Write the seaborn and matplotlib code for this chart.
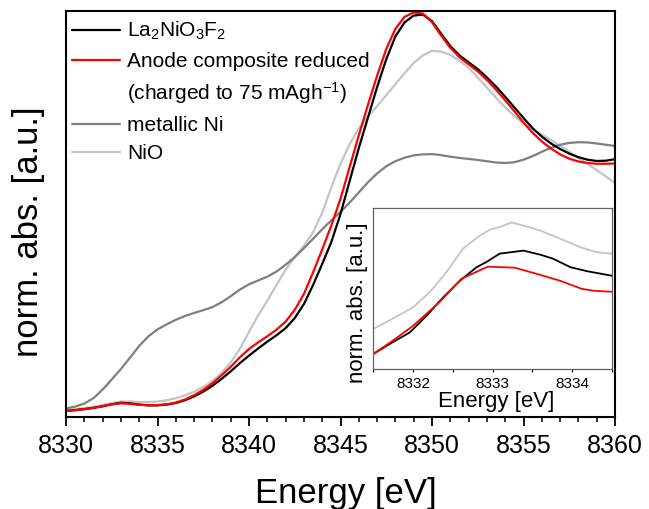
import matplotlib
matplotlib.use("Agg")
import matplotlib.pyplot as plt
from matplotlib.lines import Line2D
from matplotlib.ticker import MultipleLocator
import seaborn as sns

# ---------------- main spectra (Ni K-edge XANES) ----------------
energy = [8330.0, 8330.5, 8331.0, 8331.5, 8332.0, 8332.5, 8333.0, 8333.5, 8334.0, 8334.5,
          8335.0, 8335.5, 8336.0, 8336.5, 8337.0, 8337.5, 8338.0, 8338.5, 8339.0, 8339.5,
          8340.0, 8340.5, 8341.0, 8341.5, 8342.0, 8342.5, 8343.0, 8343.5, 8344.0, 8344.5,
          8345.0, 8345.5, 8346.0, 8346.5, 8347.0, 8347.5, 8348.0, 8348.5, 8349.0, 8349.5,
          8350.0, 8350.5, 8351.0, 8351.5, 8352.0, 8352.5, 8353.0, 8353.5, 8354.0, 8354.5,
          8355.0, 8355.5, 8356.0, 8356.5, 8357.0, 8357.5, 8358.0, 8358.5, 8359.0, 8359.5,
          8360.0]

abs_la2nio3f2 = [0.024, 0.027, 0.031, 0.036, 0.042, 0.050, 0.056, 0.054, 0.049, 0.046,
                 0.046, 0.049, 0.055, 0.066, 0.081, 0.100, 0.123, 0.150, 0.180, 0.212,
                 0.242, 0.270, 0.297, 0.322, 0.350, 0.390, 0.445, 0.520, 0.603, 0.690,
                 0.800, 0.930, 1.060, 1.180, 1.300, 1.410, 1.500, 1.555, 1.582, 1.586,
                 1.560, 1.510, 1.462, 1.425, 1.398, 1.371, 1.338, 1.302, 1.262, 1.220,
                 1.178, 1.138, 1.105, 1.078, 1.056, 1.038, 1.024, 1.014, 1.009, 1.010,
                 1.016]

abs_anode = [0.024, 0.027, 0.031, 0.036, 0.043, 0.050, 0.054, 0.052, 0.048, 0.046,
             0.047, 0.050, 0.057, 0.069, 0.086, 0.107, 0.133, 0.164, 0.198, 0.235,
             0.268, 0.294, 0.318, 0.344, 0.376, 0.422, 0.485, 0.570, 0.660, 0.755,
             0.860, 0.985, 1.110, 1.230, 1.345, 1.450, 1.530, 1.577, 1.594, 1.590,
             1.556, 1.503, 1.455, 1.418, 1.390, 1.362, 1.328, 1.290, 1.248, 1.205,
             1.160, 1.120, 1.086, 1.058, 1.035, 1.018, 1.007, 1.001, 0.998, 0.998,
             0.999]

abs_ni = [0.034, 0.041, 0.053, 0.074, 0.108, 0.148, 0.189, 0.234, 0.280, 0.318,
          0.345, 0.365, 0.383, 0.398, 0.410, 0.421, 0.433, 0.452, 0.476, 0.502,
          0.523, 0.538, 0.553, 0.573, 0.600, 0.630, 0.665, 0.702, 0.740, 0.775,
          0.808, 0.845, 0.885, 0.925, 0.960, 0.988, 1.008, 1.022, 1.031, 1.035,
          1.036, 1.032, 1.026, 1.021, 1.017, 1.013, 1.008, 1.003, 1.001, 1.004,
          1.014, 1.028, 1.045, 1.061, 1.073, 1.080, 1.083, 1.082, 1.078, 1.073,
          1.068]

abs_nio = [0.028, 0.031, 0.035, 0.040, 0.047, 0.055, 0.061, 0.061, 0.059, 0.059,
           0.061, 0.066, 0.074, 0.085, 0.100, 0.118, 0.142, 0.174, 0.215, 0.268,
           0.336, 0.400, 0.458, 0.520, 0.580, 0.630, 0.675, 0.728, 0.805, 0.905,
           0.998, 1.075, 1.138, 1.185, 1.225, 1.268, 1.312, 1.355, 1.395, 1.425,
           1.443, 1.440, 1.427, 1.404, 1.376, 1.338, 1.298, 1.258, 1.220, 1.186,
           1.157, 1.133, 1.113, 1.092, 1.069, 1.045, 1.021, 0.997, 0.973, 0.948,
           0.922]

# ---------------- pre-edge detail (inset) ----------------
pre_energy_nio = [8331.50, 8331.74, 8332.00, 8332.21, 8332.42, 8332.63, 8332.84, 8332.97,
                  8333.09, 8333.24, 8333.39, 8333.60, 8333.85, 8334.10, 8334.31, 8334.50]
pre_abs_nio = [0.0379, 0.0399, 0.0422, 0.0452, 0.0492, 0.0539, 0.0565, 0.0577,
               0.0582, 0.0591, 0.0585, 0.0575, 0.0559, 0.0542, 0.0532, 0.0529]

pre_energy_la2nio3f2 = [8331.50, 8331.74, 8331.96, 8332.17, 8332.38, 8332.59, 8332.80, 8332.92,
                        8333.09, 8333.24, 8333.39, 8333.60, 8333.76, 8333.98, 8334.19, 8334.50]
pre_abs_la2nio3f2 = [0.0329, 0.0352, 0.0372, 0.0405, 0.0442, 0.0475, 0.0502, 0.0512,
                     0.0529, 0.0532, 0.0535, 0.0527, 0.0519, 0.0502, 0.0494, 0.0485]

pre_energy_anode = [8331.50, 8331.74, 8332.00, 8332.33, 8332.61, 8332.94, 8333.28, 8333.55,
                    8333.85, 8334.12, 8334.27, 8334.50]
pre_abs_anode = [0.0329, 0.0355, 0.0385, 0.0432, 0.0479, 0.0503, 0.0501, 0.0489,
                 0.0475, 0.0459, 0.0455, 0.0453]

labels = [r"La$_2$NiO$_3$F$_2$",
          "Anode composite reduced",
          r"(charged to 75 mAgh$^{-1}$)",
          "metallic Ni",
          "NiO"]
main_ticks = [8330, 8335, 8340, 8345, 8350, 8355, 8360]
inset_ticks = [8332, 8333, 8334]

BLACK, RED, DARK, LIGHT = "#000000", "#ff0000", "#7f7f7f", "#c4c4c4"

sns.set_theme(style="white")
plt.rcParams["font.family"] = ["Liberation Sans", "DejaVu Sans"]
plt.rcParams["mathtext.default"] = "regular"
plt.rcParams["text.color"] = "black"
plt.rcParams["axes.labelcolor"] = "black"

W, H = 649, 509
fig = plt.figure(figsize=(W / 100, H / 100), dpi=100)
fig.patch.set_facecolor("white")

# main axes
ax = fig.add_axes([66 / W, 1 - 417 / H, (615 - 66) / W, (417 - 11) / H])
lw = 1.6
sns.lineplot(x=energy, y=abs_nio, color=LIGHT, linewidth=lw, errorbar=None, ax=ax)
sns.lineplot(x=energy, y=abs_ni, color=DARK, linewidth=lw, errorbar=None, ax=ax)
sns.lineplot(x=energy, y=abs_la2nio3f2, color=BLACK, linewidth=lw, errorbar=None, ax=ax)
sns.lineplot(x=energy, y=abs_anode, color=RED, linewidth=lw, errorbar=None, ax=ax)

ax.set_xlim(8330, 8360)
ax.set_ylim(0, 1.6)
ax.set_xticks(main_ticks)
ax.set_xticklabels([str(t) for t in main_ticks])
ax.xaxis.set_minor_locator(MultipleLocator(1))
ax.set_yticks([])
ax.tick_params(axis="x", which="major", bottom=True, direction="out", length=6.5,
               width=1.3, colors="black", labelsize=18, pad=6)
ax.tick_params(axis="x", which="minor", bottom=True, direction="out", length=3.6,
               width=1.1, colors="black")
for s in ax.spines.values():
    s.set_color("black")
    s.set_linewidth(1.5)

ax.set_xlabel("Energy [eV]", fontsize=25)
ax.xaxis.set_label_coords(0.51, -0.147)
ax.set_ylabel("norm. abs. [a.u.]", fontsize=25)
ax.yaxis.set_label_coords(-0.038, 0.456)

handles = [Line2D([], [], color=BLACK, lw=lw),
           Line2D([], [], color=RED, lw=lw),
           Line2D([], [], color="none", lw=lw),
           Line2D([], [], color=DARK, lw=lw),
           Line2D([], [], color=LIGHT, lw=lw)]
ax.legend(handles, labels, loc="upper left", bbox_to_anchor=(0.011, 0.978),
          frameon=False, fontsize=15, handlelength=2.3, handletextpad=0.35,
          labelspacing=0.46, borderpad=0, borderaxespad=0)

# inset: pre-edge region
axi = fig.add_axes([373.3 / W, 1 - 368.5 / H, 238.4 / W, 160 / H])
lwi = 1.3
sns.lineplot(x=pre_energy_nio, y=pre_abs_nio, color=LIGHT, linewidth=lwi, errorbar=None, ax=axi)
sns.lineplot(x=pre_energy_la2nio3f2, y=pre_abs_la2nio3f2, color=BLACK, linewidth=lwi, errorbar=None, ax=axi)
sns.lineplot(x=pre_energy_anode, y=pre_abs_anode, color=RED, linewidth=lwi, errorbar=None, ax=axi)
axi.set_xlim(8331.5, 8334.5)
axi.set_ylim(0.030, 0.0619)
axi.set_xticks(inset_ticks)
axi.set_xticklabels([str(t) for t in inset_ticks])
axi.xaxis.set_minor_locator(MultipleLocator(0.5))
axi.set_yticks([])
axi.tick_params(axis="x", which="major", bottom=True, direction="out", length=2.5,
                width=0.8, colors="black", labelsize=11, pad=3.5)
axi.tick_params(axis="x", which="minor", bottom=True, direction="out", length=1.8,
                width=0.8, colors="black")
for s in axi.spines.values():
    s.set_color("#606060")
    s.set_linewidth(0.9)
axi.set_xlabel("Energy [eV]", fontsize=16)
axi.xaxis.set_label_coords(0.514, -0.14)
axi.set_ylabel("norm. abs. [a.u.]", fontsize=16)
axi.yaxis.set_label_coords(-0.022, 0.41)

fig.savefig("out.png", dpi=100, facecolor="white")
